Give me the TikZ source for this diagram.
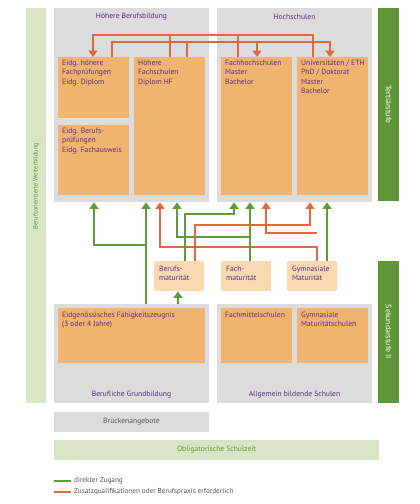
\documentclass[tikz,border=0pt]{standalone}
\usepackage{fontspec}
\setmainfont{PT Sans}
\usetikzlibrary{arrows.meta,calc}
\definecolor{panelgrey}{HTML}{DCDCDC}
\definecolor{boxorange}{HTML}{F1B46F}
\definecolor{lightorange}{HTML}{F9D9B0}
\definecolor{lightgreen}{HTML}{DAE4C6}
\definecolor{bargreen}{HTML}{5F9738}
\definecolor{arrgreen}{HTML}{5E9B3B}
\definecolor{arrorange}{HTML}{E2693A}
\definecolor{txtpurple}{HTML}{5B2D86}
\definecolor{txtgrey}{HTML}{555555}
\definecolor{txtgreen}{HTML}{5E9B3B}
\begin{document}
\begin{tikzpicture}[x=1pt,y=-1pt,
  panel/.style={fill=panelgrey,draw=none,inner sep=0,anchor=north west},
  obox/.style={fill=boxorange,draw=none,inner sep=0,anchor=north west},
  mbox/.style={fill=lightorange,draw=none,inner sep=0,anchor=north west},
  gbox/.style={fill=lightgreen,draw=none,inner sep=0,anchor=north west},
  dbar/.style={fill=bargreen,draw=none,inner sep=0,anchor=north west},
  btext/.style={font=\fontsize{7.6}{9.3}\selectfont,text=txtpurple,align=left,anchor=north west,inner sep=0},
  ttext/.style={font=\fontsize{7.6}{9}\selectfont,text=txtpurple,inner sep=0},
  bartext/.style={font=\fontsize{7.8}{9}\selectfont,text=white,inner sep=0},
  gline/.style={draw=arrgreen,line width=2.8pt},
  oline/.style={draw=arrorange,line width=2.8pt},
  garr/.style={gline,-{Triangle[width=9pt,length=6.5pt]}},
  oarr/.style={oline,-{Triangle[width=9pt,length=6.5pt]}},
  legtext/.style={font=\fontsize{7.2}{8}\selectfont,text=txtgrey,anchor=west,inner sep=0}
]
\useasboundingbox (0,0) rectangle (420,504);
\fill[white] (0,0) rectangle (420,504);

% side bars
\node[gbox,minimum width=20pt,minimum height=395pt] (lbar) at (26,8) {};
\node[font=\fontsize{6.4}{7}\selectfont,text=txtgreen,rotate=90,inner sep=0] (lbart) at (36,186) {Berufsorientierte Weiterbildung};
\node[dbar,minimum width=21pt,minimum height=193pt] (tbar) at (378,8) {};
\node[bartext,rotate=-90] (tbart) at (388.5,104.5) {Tertiärstufe};
\node[dbar,minimum width=21pt,minimum height=142pt] (sbar) at (378,261) {};
\node[bartext,rotate=-90] (sbart) at (388.5,332) {Sekundarstufe II};

% tertiary panels
\node[panel,minimum width=155pt,minimum height=194pt] (pHB) at (54,8) {};
\node[ttext] (tHB) at (131.5,17) {Höhere Berufsbildung};
\node[panel,minimum width=155pt,minimum height=194pt] (pHS) at (217,8) {};
\node[ttext] (tHS) at (294.5,17) {Hochschulen};

\node[obox,minimum width=71pt,minimum height=61pt] (A) at (58,57) {};
\node[btext] (At) at ($(A.north west)+(4,3)$) {Eidg. höhere\\Fachprüfungen\\Eidg. Diplom};
\node[obox,minimum width=71pt,minimum height=70pt] (B) at (58,125) {};
\node[btext] (Bt) at ($(B.north west)+(4,3)$) {Eidg. Berufs-\\prüfungen\\Eidg. Fachausweis};
\node[obox,minimum width=71pt,minimum height=138pt] (C) at (134,57) {};
\node[btext] (Ct) at ($(C.north west)+(4,3)$) {Höhere\\Fachschulen\\Diplom HF};
\node[obox,minimum width=71pt,minimum height=138pt] (FH) at (221,57) {};
\node[btext] (FHt) at ($(FH.north west)+(4,3)$) {Fachhochschulen\\Master\\Bachelor};
\node[obox,minimum width=71pt,minimum height=138pt] (UNI) at (297,57) {};
\node[btext] (UNIt) at ($(UNI.north west)+(4,3)$) {Universitäten / ETH\\PhD / Doktorat\\Master\\Bachelor};

% maturity boxes
\node[mbox,minimum width=50pt,minimum height=30pt] (BM) at (154,261) {};
\node[btext] (BMt) at ($(BM.north west)+(5,4.5)$) {Berufs-\\maturität};
\node[mbox,minimum width=50pt,minimum height=30pt] (FM) at (221,261) {};
\node[btext] (FMt) at ($(FM.north west)+(5,4.5)$) {Fach-\\maturität};
\node[mbox,minimum width=50pt,minimum height=30pt] (GM) at (287,261) {};
\node[btext] (GMt) at ($(GM.north west)+(5,4.5)$) {Gymnasiale\\Maturität};

% secondary panels
\node[panel,minimum width=155pt,minimum height=99pt] (pBG) at (54,304) {};
\node[obox,minimum width=147pt,minimum height=55pt] (EFZ) at (58,308) {};
\node[btext] (EFZt) at ($(EFZ.north west)+(4,4)$) {Eidgenössisches Fähigkeitszeugnis\\(3 oder 4 Jahre)};
\node[ttext] (tBG) at (131.5,395) {Berufliche Grundbildung};
\node[panel,minimum width=155pt,minimum height=99pt] (pAS) at (217,304) {};
\node[obox,minimum width=71pt,minimum height=55pt] (FMS) at (221,308) {};
\node[btext] (FMSt) at ($(FMS.north west)+(4,4)$) {Fachmittelschulen};
\node[obox,minimum width=71pt,minimum height=55pt] (GMS) at (297,308) {};
\node[btext] (GMSt) at ($(GMS.north west)+(4,4)$) {Gymnasiale\\Maturitätschulen};
\node[ttext] (tAS) at (294.5,395) {Allgemein bildende Schulen};

\node[panel,minimum width=155pt,minimum height=20pt] (BR) at (54,412) {};
\node[ttext,text=txtgrey] (BRt) at (131.5,422) {Brückenangebote};
\node[gbox,minimum width=325pt,minimum height=20pt] (OS) at (54,440) {};
\node[ttext,text=txtgreen] (OSt) at (216.5,450) {Obligatorische Schulzeit};

% top orange connectors
\draw[oarr] (UNI.north -| 313,0) -- (313,35) -- (93,35) -- (A.north -| 93,0);
\draw[oline] (C.north -| 170,0) -- (170,35);
\draw[oline] (FH.north -| 238,0) -- (238,35);
\draw[oarr] (A.north -| 112,0) -- (112,42) -- (330,42) -- (UNI.north -| 330,0);
\draw[oline] (C.north -| 187,0) -- (187,42);
\draw[oarr] (257,42) -- (FH.north -| 257,0);

% bottom connectors
\draw[garr] (pBG.north -| 146,0) -- (pHB.south -| 146,0);
\draw[garr] (146,245) -- (94,245) -- (pHB.south -| 94,0);
\draw[garr] (pBG.north -| 178,0) -- (BM.south -| 178,0);
\draw[oarr] (GM.north -| 317,0) -- (317,247) -- (160,247) -- (pHB.south -| 160,0);
\draw[oarr] (317,233) -- (266,233) -- (pHS.south -| 266,0);
\draw[garr] (FM.north -| 250,0) -- (pHS.south -| 250,0);
\draw[garr] (250,237) -- (177,237) -- (pHB.south -| 177,0);
\draw[garr] (BM.north -| 185,0) -- (185,214) -- (234,214) -- (pHS.south -| 234,0);
\draw[oarr] (BM.north -| 195,0) -- (195,225) -- (310,225) -- (pHS.south -| 310,0);
\draw[garr] (GM.north -| 327,0) -- (pHS.south -| 327,0);

% legend
\coordinate (lg1) at (54,481);
\coordinate (lg2) at (71,481);
\coordinate (lo1) at (54,492);
\coordinate (lo2) at (71,492);
\draw[gline] (lg1) -- (lg2);
\draw[oline] (lo1) -- (lo2);
\node[legtext] (lgt) at (74,481) {direkter Zugang};
\node[legtext] (lot) at (74,492) {Zusatzqualifikationen oder Berufspraxis erforderlich};
\end{tikzpicture}
\end{document}
